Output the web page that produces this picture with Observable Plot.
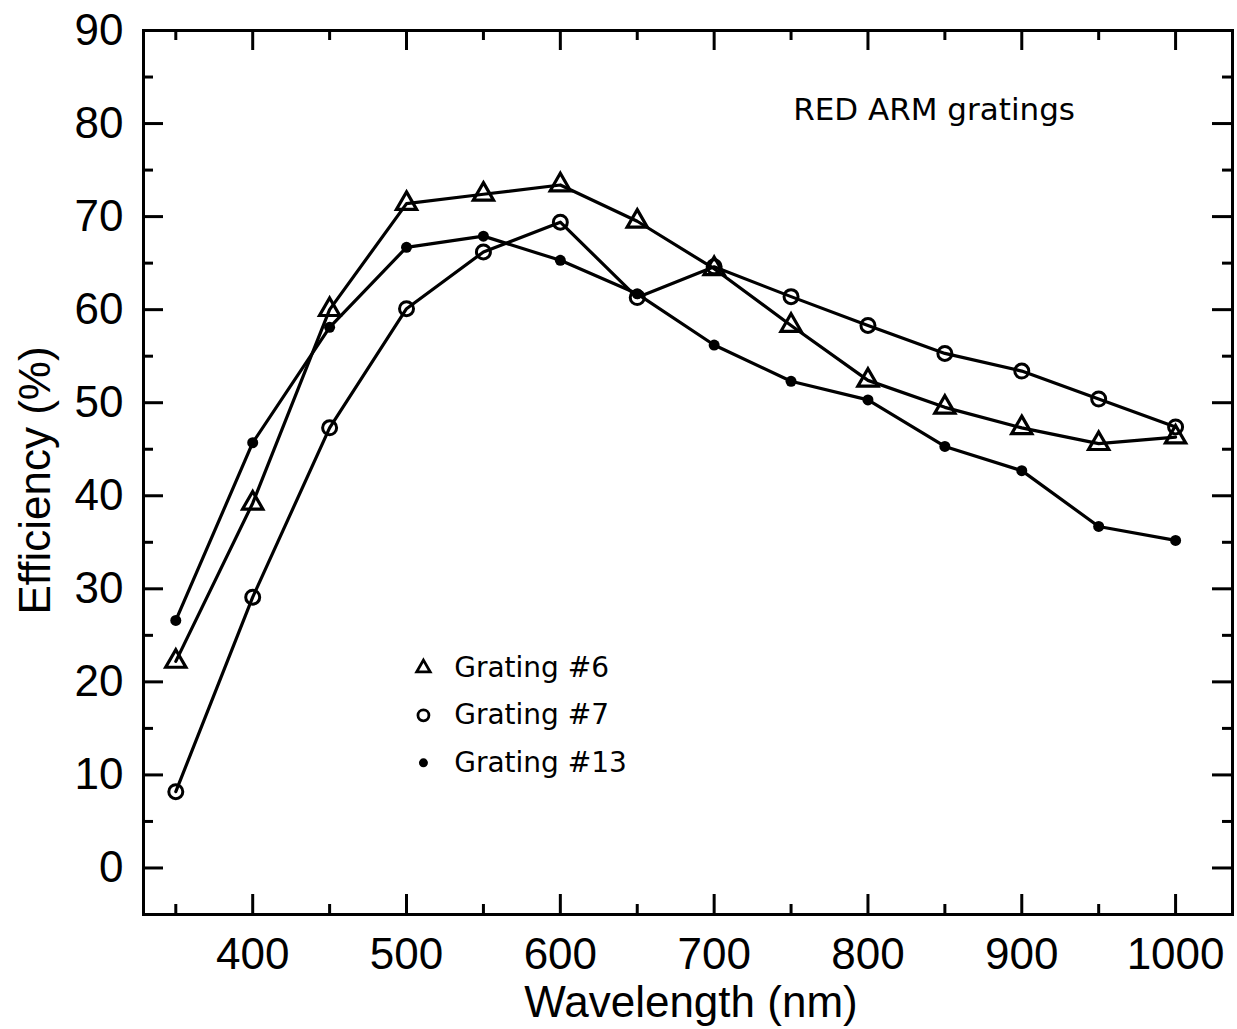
<!DOCTYPE html>
<html><head><meta charset="utf-8">
<script src="https://cdn.jsdelivr.net/npm/d3@7"></script>
<script src="https://cdn.jsdelivr.net/npm/@observablehq/plot@0.6"></script>
<style>body{margin:0;background:#fff}</style>
</head><body><div id="chart"></div>
<script>
// ---- data ----
const wavelength = [350, 400, 450, 500, 550, 600, 650, 700, 750, 800, 850, 900, 950, 1000];
const grating6  = [22.2, 39.2, 60.0, 71.4, 72.4, 73.4, 69.5, 64.4, 58.3, 52.4, 49.5, 47.3, 45.6, 46.3];
const grating7  = [8.2, 29.1, 47.3, 60.1, 66.2, 69.4, 61.3, 64.6, 61.4, 58.3, 55.3, 53.4, 50.4, 47.4];
const grating13 = [26.6, 45.7, 58.1, 66.7, 67.9, 65.3, 61.7, 56.2, 52.3, 50.3, 45.3, 42.7, 36.7, 35.2];
const seriesNames = ["Grating #6", "Grating #7", "Grating #13"];
const xTickLabels = [400, 500, 600, 700, 800, 900, 1000];
const xMinorTicks = [350, 450, 550, 650, 750, 850, 950];
const yTickLabels = [0, 10, 20, 30, 40, 50, 60, 70, 80, 90];
const yMinorTicks = [-5, 5, 15, 25, 35, 45, 55, 65, 75, 85];
const annotationText = ["RED ARM gratings"];

// ---- layout ----
const W = 1237, H = 1029, mL = 143, mR = 5, mT = 30, mB = 115;
const innerW = W - mL - mR, innerH = H - mT - mB;
const majorLen = 20, minorLen = 10;

const toRows = (vals, name) => wavelength.map((w, i) => ({wavelength: w, value: vals[i], series: name}));
const rows6 = toRows(grating6, seriesNames[0]);
const rows7 = toRows(grating7, seriesNames[1]);
const rows13 = toRows(grating13, seriesNames[2]);

const legendX = 511, legendTextX = 531;
const legendY = [21.5, 16.4, 11.3];
const legend = seriesNames.map((s, i) => ({name: s, y: legendY[i]}));

const tickStyle = {stroke: "black", strokeWidth: 3};
const plot = Plot.plot({
  width: W, height: H,
  marginLeft: mL, marginRight: mR, marginTop: mT, marginBottom: mB,
  style: {fontFamily: "'Liberation Sans', Arial, sans-serif", background: "#fff", color: "#000"},
  x: {domain: [329, 1037]},
  y: {domain: [-5, 90]},
  marks: [
    Plot.axisX(xTickLabels, {tickSize: 0, tickPadding: 23, fontSize: 44, label: null, tickFormat: d => String(d)}),
    Plot.axisY(yTickLabels, {tickSize: 0, tickPadding: 20, fontSize: 44, label: null, tickFormat: d => String(d)}),
    // inward ticks, bottom & top
    Plot.tickX(xTickLabels, {x: d => d, insetTop: innerH - majorLen, ...tickStyle}),
    Plot.tickX(xMinorTicks, {x: d => d, insetTop: innerH - minorLen, ...tickStyle}),
    Plot.tickX(xTickLabels, {x: d => d, insetBottom: innerH - majorLen, ...tickStyle}),
    Plot.tickX(xMinorTicks, {x: d => d, insetBottom: innerH - minorLen, ...tickStyle}),
    // inward ticks, left & right
    Plot.tickY(yTickLabels, {y: d => d, insetRight: innerW - majorLen, ...tickStyle}),
    Plot.tickY(yMinorTicks, {y: d => d, insetRight: innerW - minorLen, ...tickStyle}),
    Plot.tickY(yTickLabels, {y: d => d, insetLeft: innerW - majorLen, ...tickStyle}),
    Plot.tickY(yMinorTicks, {y: d => d, insetLeft: innerW - minorLen, ...tickStyle}),
    // axis titles
    Plot.text(["Efficiency (%)"], {frameAnchor: "left", textAnchor: "middle", lineAnchor: "middle", dx: -108, dy: 8, rotate: -90, fontSize: 44, fill: "black"}),
    Plot.text(["Wavelength (nm)"], {frameAnchor: "bottom", textAnchor: "middle", lineAnchor: "middle", dx: 3, dy: 88, fontSize: 44, fill: "black"}),
    // series
    Plot.line(rows6, {x: "wavelength", y: "value", stroke: "black", strokeWidth: 3.2}),
    Plot.line(rows7, {x: "wavelength", y: "value", stroke: "black", strokeWidth: 3.2}),
    Plot.line(rows13, {x: "wavelength", y: "value", stroke: "black", strokeWidth: 3.2}),
    Plot.dot(rows6, {x: "wavelength", y: "value", symbol: "triangle", r: 7.5, stroke: "black", strokeWidth: 3.2, fill: "none"}),
    Plot.dot(rows7, {x: "wavelength", y: "value", symbol: "circle", r: 7, stroke: "black", strokeWidth: 3, fill: "none"}),
    Plot.dot(rows13, {x: "wavelength", y: "value", symbol: "circle", r: 5.5, fill: "black", stroke: "none"}),
    // annotation
    Plot.text(annotationText, {x: 843, y: 81.4, fontSize: 31, fontFamily: "'DejaVu Sans', sans-serif", fill: "black"}),
    // legend
    Plot.dot(legend.slice(0, 1), {x: legendX, y: "y", symbol: "triangle", r: 5, stroke: "black", strokeWidth: 2.8, fill: "none"}),
    Plot.dot(legend.slice(1, 2), {x: legendX, y: "y", symbol: "circle", r: 5.5, stroke: "black", strokeWidth: 2.8, fill: "none"}),
    Plot.dot(legend.slice(2, 3), {x: legendX, y: "y", symbol: "circle", r: 4.5, fill: "black", stroke: "none"}),
    Plot.text(legend, {x: legendTextX, y: "y", text: "name", textAnchor: "start", fontSize: 28, fontFamily: "'DejaVu Sans', sans-serif", fill: "black"}),
    Plot.frame({stroke: "black", strokeWidth: 3})
  ]
});
document.getElementById("chart").appendChild(plot);
</script>
</body></html>
